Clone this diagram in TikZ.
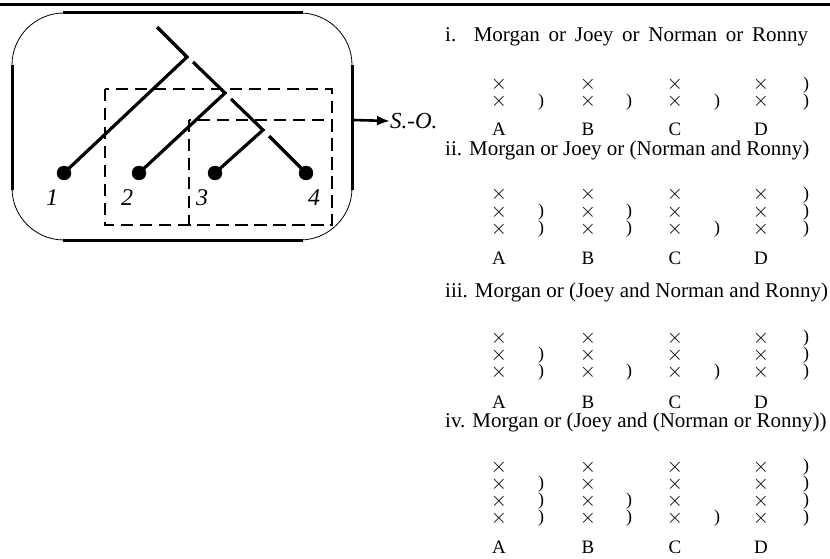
\documentclass[tikz,border=0pt]{standalone}
\usepackage{fontspec}
\setmainfont{Liberation Serif}
\usepackage{tikz}
\usetikzlibrary{arrows.meta}
\tikzset{
 tree line/.style={line width=3.2pt},
 leaf dot/.style={circle,fill=black,draw=black,minimum size=14pt,
                  inner sep=0pt,outer sep=0pt},
 leaf label/.style={font=\fontsize{24}{28}\selectfont\itshape,inner sep=0pt},
 scope box/.style={line width=2.2pt,dash pattern=on 12pt off 7pt},
 frame thin/.style={line width=.8pt,rounded corners=52pt},
 frame side/.style={line width=3pt},
 title text/.style={font=\fontsize{21}{25}\selectfont,anchor=west,inner sep=0pt},
 cross mark/.style={font=\fontsize{20}{24}\selectfont,inner sep=0pt,
                    text height=10pt,text depth=0pt},
 brace piece/.style={font=\fontsize{18}{20}\selectfont,inner sep=0pt,
                     text height=9pt,text depth=0pt},
 col label/.style={font=\fontsize{19}{23}\selectfont,inner sep=0pt,
                   text height=12.5pt,text depth=0pt}
}
\begin{document}
\begin{tikzpicture}[x=1pt,y=-1pt]
 \useasboundingbox (0,0) rectangle (830,559);
 \draw[line width=3.5pt] (0,4.5)--(830,4.5);

 % frame round the tree
 \draw[frame thin] (12,13) rectangle (352,240);
 \draw[frame side] (63,13)--(303,13);
 \draw[frame side] (63,240)--(303,240);
 \draw[frame side] (12,65)--(12,190);
 \draw[frame side] (352,65)--(352,190);

 % scopes
 \draw[scope box] (105,89) rectangle (332,225);
 \draw[scope box] (189,120) rectangle (332,225);

 % tree
 \coordinate (root) at (157,27);
 \coordinate (j1) at (187,57);
 \coordinate (j1r) at (193,62);
 \coordinate (j2) at (225,93);
 \coordinate (j2r) at (231,99);
 \coordinate (j3) at (263,130);
 \coordinate (j3r) at (269,136);
 \node[leaf dot] (l1) at (64,173) {};
 \node[leaf dot] (l2) at (139,173) {};
 \node[leaf dot] (l3) at (215,173) {};
 \node[leaf dot] (l4) at (306,173) {};
 \draw[tree line] (root)--(j1)--(l1.center);
 \draw[tree line] (j1r)--(j2)--(l2.center);
 \draw[tree line] (j2r)--(j3)--(l3.center);
 \draw[tree line] (j3r)--(l4.center);
 \node[leaf label] (n1) at (52,198) {1};
 \node[leaf label] (n2) at (127,198) {2};
 \node[leaf label] (n3) at (202,198) {3};
 \node[leaf label] (n4) at (314,198) {4};

 \coordinate (frame-e) at (353,120);
 \node[font=\fontsize{23}{27}\selectfont\itshape,anchor=west,inner sep=0pt]
   (so) at (390,121) {S.-O.};
 \draw[line width=2.6pt,-{Latex[length=13pt,width=10pt]}] (frame-e)--(so.west);

 % i
 \node[title text] (i-title) at (445,37)
   {\makebox[363pt][s]{i. Morgan or Joey or Norman or Ronny}};
 \foreach \c/\x in {A/499,B/588,C/675,D/761} {
   \foreach \r/\y in {1/85,2/102}
     \node[cross mark] (i-\c\r) at (\x,\y) {$\times$};
   \node[col label] (i-\c) at (\x,129) {\c};
 }
 \foreach \p/\x/\y in {a2/541/102,b2/629/102,c2/717/102,d1/806/85,d2/806/102}
   \node[brace piece] (i-\p) at (\x,\y) {)};

 % ii
 \node[title text] (ii-title) at (445,150)
   {ii. Morgan or Joey or (Norman and Ronny)};
 \foreach \c/\x in {A/499,B/588,C/675,D/761} {
   \foreach \r/\y in {1/195,2/212,3/229}
     \node[cross mark] (ii-\c\r) at (\x,\y) {$\times$};
   \node[col label] (ii-\c) at (\x,258) {\c};
 }
 \foreach \p/\x/\y in {a2/541/212,a3/541/229,b2/629/212,b3/629/229,c3/717/229,
                       d1/806/195,d2/806/212,d3/806/229}
   \node[brace piece] (ii-\p) at (\x,\y) {)};

 % iii
 \node[title text] (iii-title) at (445,292)
   {iii. Morgan or (Joey and Norman and Ronny)};
 \foreach \c/\x in {A/499,B/588,C/675,D/761} {
   \foreach \r/\y in {1/338,2/355,3/372}
     \node[cross mark] (iii-\c\r) at (\x,\y) {$\times$};
   \node[col label] (iii-\c) at (\x,402) {\c};
 }
 \foreach \p/\x/\y in {a2/541/355,a3/541/372,b3/629/372,c3/717/372,
                       d1/806/338,d2/806/355,d3/806/372}
   \node[brace piece] (iii-\p) at (\x,\y) {)};

 % iv
 \node[title text] (iv-title) at (445,422)
   {iv. Morgan or (Joey and (Norman or Ronny))};
 \foreach \c/\x in {A/499,B/588,C/675,D/761} {
   \foreach \r/\y in {1/467,2/484,3/501,4/518}
     \node[cross mark] (iv-\c\r) at (\x,\y) {$\times$};
   \node[col label] (iv-\c) at (\x,547) {\c};
 }
 \foreach \p/\x/\y in {a2/541/484,a3/541/501,a4/541/518,b3/629/501,b4/629/518,
                       c4/717/518,d1/806/467,d2/806/484,d3/806/501,d4/806/518}
   \node[brace piece] (iv-\p) at (\x,\y) {)};
\end{tikzpicture}
\end{document}
